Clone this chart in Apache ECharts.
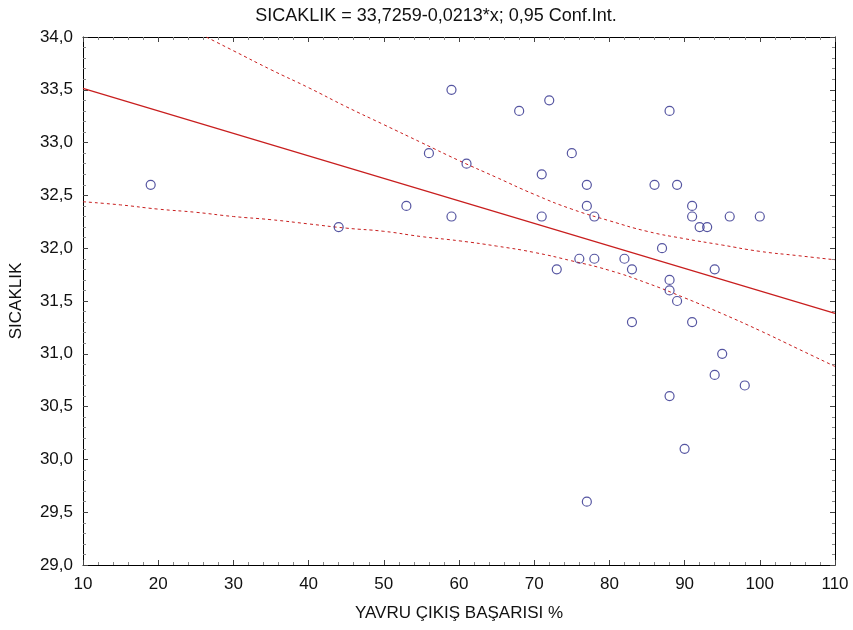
<!DOCTYPE html>
<html>
<head>
<meta charset="utf-8">
<script src="https://cdn.jsdelivr.net/npm/echarts@6/dist/echarts.min.js"></script>
<style>html,body{margin:0;padding:0;background:#fff;}#c{width:853px;height:630px;}</style>
</head>
<body>
<div id="c"></div>
<script>
// Scatter data: YAVRU ÇIKIŞ BAŞARISI % (x) and SICAKLIK (y)
var xVals = [19,44,53,56,59,59,61,68,71,71,72,73,75,76,77,77,78,78,77,82,83,83,86,87,88,88,88,88,89,89,90,91,91,91,92,93,94,94,95,96,98,100];
var yVals = [32.6,32.2,32.4,32.9,33.5,32.3,32.8,33.3,32.7,32.3,33.4,31.8,32.9,31.9,32.6,32.4,32.3,31.9,29.6,31.9,31.8,31.3,32.6,32.0,33.3,31.7,31.6,30.6,32.6,31.5,30.1,32.4,32.3,31.3,32.2,32.2,31.8,30.8,31.0,32.3,30.7,32.3];
// Fitted line endpoints (SICAKLIK = 33,7259-0,0213*x)
var fitX = [10, 110];
var fitY = [33.513, 31.383];
// 0.95 confidence band
var bandX = [10,15,20,25,30,35,40,45,50,55,60,65,70,75,80,85,90,95,100,105,110];
var upperY = [null,null,null,34.05,33.87,33.69,33.52,33.34,33.17,33.00,32.83,32.67,32.51,32.37,32.26,32.16,32.09,32.03,31.97,31.93,31.89];
var lowerY = [32.44,32.41,32.37,32.34,32.30,32.27,32.23,32.19,32.16,32.11,32.07,32.02,31.96,31.88,31.79,31.67,31.53,31.38,31.22,31.05,30.88];
var xTicks = [10,20,30,40,50,60,70,80,90,100,110];
var yTicks = [29.0,29.5,30.0,30.5,31.0,31.5,32.0,32.5,33.0,33.5,34.0];

var FONT = "'Liberation Sans',Arial,sans-serif";
function pairs(xs, ys){ var o=[]; for(var i=0;i<xs.length;i++){ if(ys[i]!==null) o.push([xs[i],ys[i]]); } return o; }
var scatterData = pairs(xVals, yVals);
var lineColor = '#c81e1e';
var ptColor = '#2a2a8a';

var tickCommon = {
  axisLine:{show:true,lineStyle:{color:'#000',width:1}},
  axisTick:{show:true,inside:true,length:5,lineStyle:{color:'#444'}},
  minorTick:{show:true,splitNumber:5,length:3,lineStyle:{color:'#888'}},
  splitLine:{show:false}
};

var chart = echarts.init(document.getElementById('c'), null, {renderer:'canvas'});
chart.setOption({
  animation:false,
  backgroundColor:'#fff',
  title:{
    text:'SICAKLIK = 33,7259-0,0213*x; 0,95 Conf.Int.',
    left:431, top:2, textAlign:'center',
    textStyle:{fontFamily:FONT,fontSize:18,fontWeight:'normal',color:'#111'}
  },
  grid:{left:81,right:18,top:37,bottom:65},
  xAxis:[
    Object.assign({type:'value',min:10,max:110,interval:10,position:'bottom',
      name:'YAVRU ÇIKIŞ BAŞARISI %',nameLocation:'middle',nameGap:40,
      nameTextStyle:{fontFamily:FONT,fontSize:17,color:'#111'},
      axisLabel:{fontFamily:FONT,fontSize:17,color:'#111',margin:11}},tickCommon),
    Object.assign({type:'value',min:10,max:110,interval:10,position:'top',
      axisLabel:{show:false}},tickCommon)
  ],
  yAxis:[
    Object.assign({type:'value',min:29,max:34,interval:0.5,position:'left',
      name:'SICAKLIK',nameLocation:'middle',nameGap:58,
      nameTextStyle:{fontFamily:FONT,fontSize:17,color:'#111'},
      axisLabel:{fontFamily:FONT,fontSize:17,color:'#111',margin:10,
        formatter:function(v){return v.toFixed(1).replace('.',',');}}},tickCommon),
    Object.assign({type:'value',min:29,max:34,interval:0.5,position:'right',
      axisLabel:{show:false}},tickCommon)
  ],
  series:[
    {type:'line',data:pairs(fitX,fitY),symbol:'none',lineStyle:{color:lineColor,width:1.2},clip:true,z:2},
    {type:'line',data:pairs(bandX,upperY),symbol:'none',smooth:true,lineStyle:{color:lineColor,width:1,type:[3,3]},clip:true,z:2},
    {type:'line',data:pairs(bandX,lowerY),symbol:'none',smooth:true,lineStyle:{color:lineColor,width:1,type:[3,3]},clip:true,z:2},
    {type:'scatter',data:scatterData,symbol:'circle',symbolSize:9,
      itemStyle:{color:'rgba(255,255,255,0)',borderColor:ptColor,borderWidth:1.2},z:3}
  ]
});
</script>
</body>
</html>
